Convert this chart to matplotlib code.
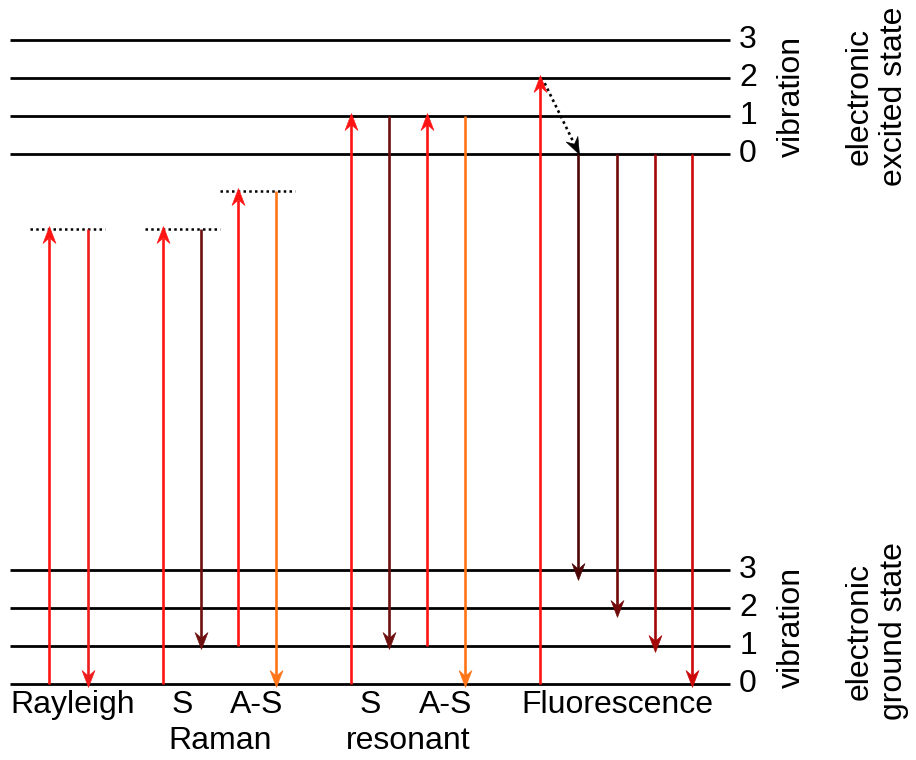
import numpy as np
import matplotlib
matplotlib.use('Agg')
import matplotlib.pyplot as plt
from matplotlib.path import Path
from matplotlib.markers import MarkerStyle

plt.rcParams['font.family'] = ['Liberation Sans', 'DejaVu Sans']

# ---- data: energies in units of one vibrational quantum ----
ground_levels = [0, 1, 2, 3]
excited_levels = [14, 15, 16, 17]
level_labels = ['0', '1', '2', '3']
virtual_levels = [12, 12, 13]          # Rayleigh, Raman S, Raman A-S

process_names = ['Rayleigh', 'S', 'A-S', 'S', 'A-S', 'Fluorescence']
group_names = ['Raman', 'resonant']
excitation_start = [0, 0, 1, 0, 1, 0]
excitation_end = [12, 12, 13, 15, 15, 16]
emission_start = [12, 12, 13, 15, 15]
emission_end = [0, 1, 0, 1, 0]
relax_start = 16
relax_end = 14
fluor_emission_start = 14
fluor_emission_end = [3, 2, 1, 0]

# ---- layout / style ----
up_x = [49, 163, 238, 351, 427, 540]
down_x = [88, 201, 276, 389, 465]
fluor_x = [578, 617, 655, 692]
virtual_x = [(30, 105), (145, 220), (220, 295)]
up_color = '#ff1414'
emission_colors = ['#ee1c1c', '#6e1010', '#ff7518', '#6e1010', '#ff7518']
fluor_colors = ['#4d0606', '#730a0a', '#a30808', '#cc0a0a']
FS = 23

fig = plt.figure(figsize=(9.16, 7.6), dpi=100)
ax = fig.add_axes([0, 0, 1, 1])
ax.set_xlim(0, 916)
ax.set_ylim(-2, 18.05)
ax.axis('off')

HL, HW, HN = 17.0, 13.0, 5.5   # head length, width, notch (pixels)
PX2PT = 72.0 / fig.dpi


def arrow(x0, y0, x1, y1, color, ls='-', lw=1.9, over=0.0):
    """Line from (x0,y0) to (x1,y1) (data) with a notched head at the end."""
    y1 = y1 + over
    p0 = ax.transData.transform((x0, y0))
    p1 = ax.transData.transform((x1, y1))
    d = p1 - p0
    ang = np.arctan2(d[1], d[0])
    u = d / np.hypot(*d)
    pend = p1 - u * (HL - HN)
    xe, ye = ax.transData.inverted().transform(pend)
    if ls == '-':
        ax.plot([x0, xe], [y0, ye], color=color, lw=lw, solid_capstyle='butt', zorder=3)
    else:
        ax.plot([x0, xe], [y0, ye], color=color, lw=lw, linestyle=(0, (1, 1.3)),
                dash_capstyle='butt', zorder=3)
    verts = np.array([[0, 0], [-HL, HW / 2], [-HL + HN, 0], [-HL, -HW / 2], [0, 0]])
    c, s = np.cos(ang), np.sin(ang)
    R = np.array([[c, -s], [s, c]])
    v = verts @ R.T
    m = np.max(np.abs(v))
    path = Path(v, [Path.MOVETO, Path.LINETO, Path.LINETO, Path.LINETO, Path.CLOSEPOLY])
    ax.plot([x1], [y1], marker=MarkerStyle(path), markersize=2 * m * PX2PT,
            color=color, markeredgewidth=0.4, markeredgecolor=color, zorder=4)


# level lines
for lev in ground_levels + excited_levels:
    ax.plot([10, 730], [lev, lev], color='black', lw=2.0, zorder=2, solid_capstyle='butt')
for lev, lab in zip(ground_levels, level_labels):
    ax.text(748, lev, lab, fontsize=FS, ha='center', va='center')
for lev, lab in zip(excited_levels, level_labels):
    ax.text(748, lev, lab, fontsize=FS, ha='center', va='center')

# virtual levels
for (xa, xb), lev in zip(virtual_x, virtual_levels):
    ax.plot([xa, xb], [lev, lev], color='black', lw=1.8, linestyle=(0, (1, 1.3)),
            dash_capstyle='butt', zorder=2)

# excitation arrows
for x, a, b in zip(up_x, excitation_start, excitation_end):
    arrow(x, a, x, b, up_color, over=0.08)

# emission arrows
for x, a, b, c in zip(down_x, emission_start, emission_end, emission_colors):
    arrow(x, a, x, b, c, over=-0.08)

# vibrational relaxation (dotted)
arrow(up_x[-1] + 2, relax_start, fluor_x[0] + 1, relax_end, 'black', ls=':', lw=1.9)

# fluorescence emission
fl_over = [-0.26, -0.24, -0.16, -0.08]
for x, b, c, o in zip(fluor_x, fluor_emission_end, fluor_colors, fl_over):
    arrow(x, fluor_emission_start, x, b, c, over=o)

# process labels
label_x = [73, 182, 257, 370, 446, 617]
for x, name in zip(label_x, process_names):
    ax.text(x, -0.55, name, fontsize=FS, ha='center', va='center')
for x, name in zip([220, 408], group_names):
    ax.text(x, -1.5, name, fontsize=FS, ha='center', va='center')

# side labels
ax.text(792, np.mean(excited_levels), 'vibration', fontsize=FS, rotation=90,
        ha='center', va='center')
ax.text(792, np.mean(ground_levels), 'vibration', fontsize=FS, rotation=90,
        ha='center', va='center')
ax.text(877, np.mean(excited_levels), 'electronic\nexcited state', fontsize=FS,
        rotation=90, ha='center', va='center', multialignment='center')
ax.text(877, np.mean(ground_levels) - 0.1, 'electronic\nground state', fontsize=FS,
        rotation=90, ha='center', va='center', multialignment='center')

fig.savefig('out.png', dpi=100)
